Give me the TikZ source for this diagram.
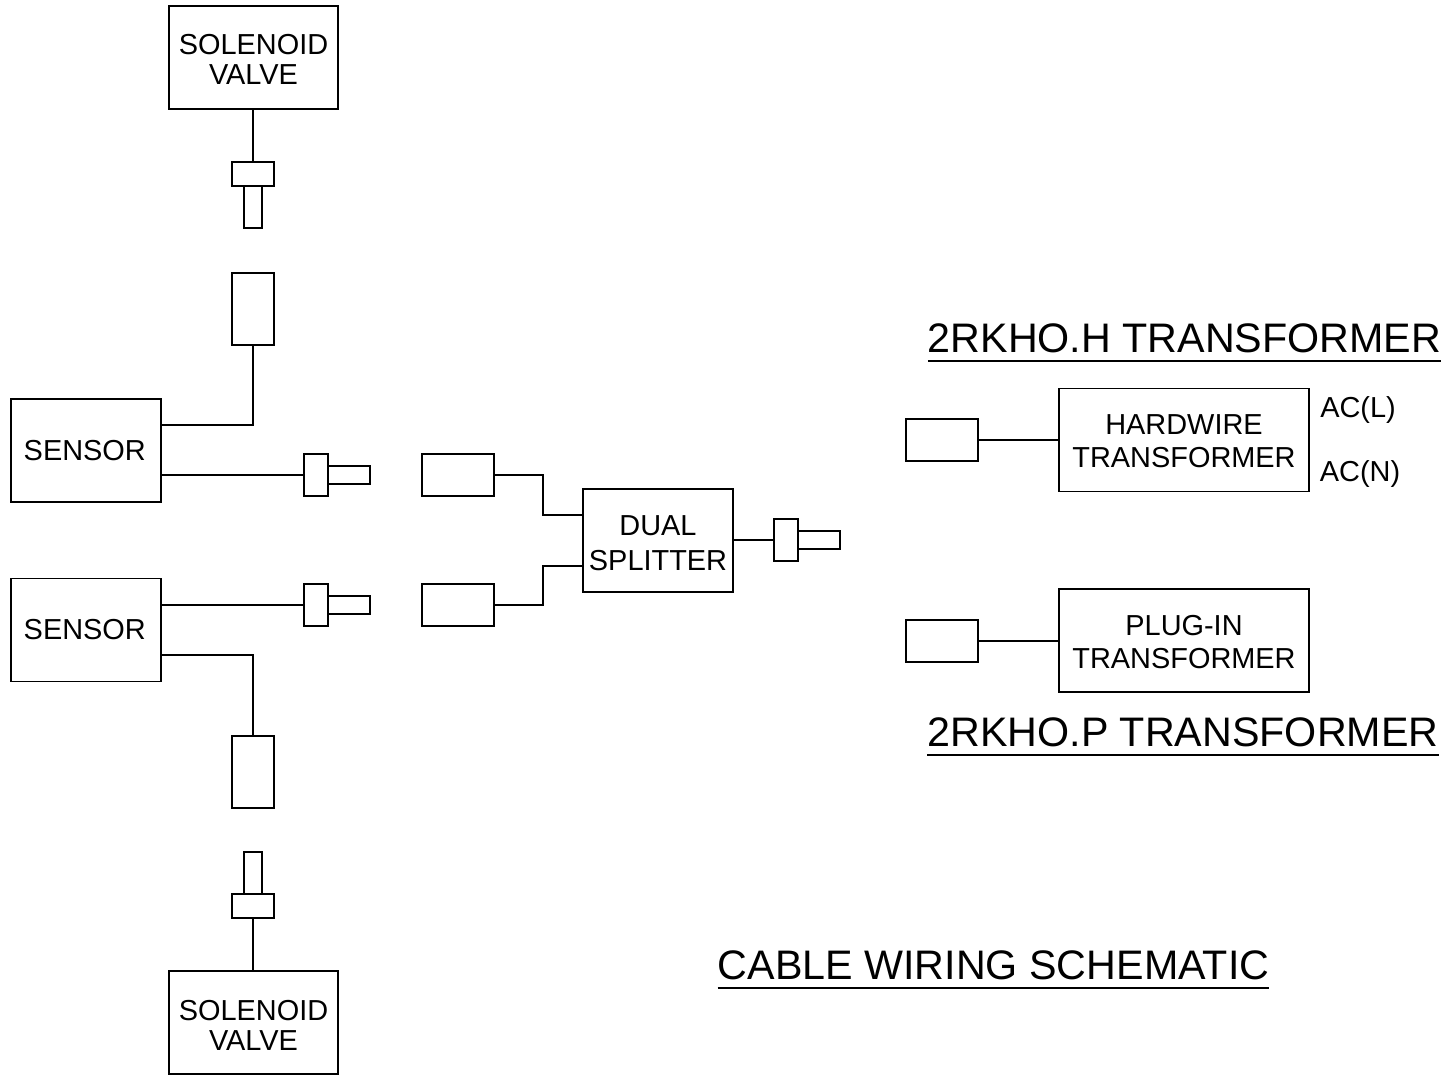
\documentclass[tikz,border=0pt]{standalone}
\usepackage{fontspec}
\setmainfont{Liberation Sans}
\newcommand{\dropline}[1]{\rule{0pt}{#1}}
\tikzset{
	unitbox/.style={draw, line width=1.9pt, inner sep=0pt, outer sep=0pt, align=center, font=\fontsize{28.9}{33}\selectfont, minimum width=150pt, minimum height=103pt},
	plugbox/.style={draw, line width=1.9pt, inner sep=0pt, outer sep=0pt, minimum width=#1},
	wire/.style={line width=1.9pt},
	heading/.style={inner sep=0pt, outer sep=0pt, font=\fontsize{41.25}{41}\selectfont, text depth=0pt},
	aclabel/.style={inner sep=0pt, font=\fontsize{28.9}{33}\selectfont}
}

\begin{document}
\begin{tikzpicture}[x=1pt, y=-1pt]
	\useasboundingbox (0,0) rectangle (1447,1075);
	% units
	\node[unitbox, minimum width=169pt, font=\fontsize{28.9}{30}\selectfont] (valvea) at (253.5,57.5) {\dropline{25pt}SOLENOID\\VALVE};
	\node[unitbox, minimum width=169pt, font=\fontsize{28.9}{30}\selectfont] (valveb) at (253.5,1022.5) {\dropline{25pt}SOLENOID\\VALVE};
	\node[unitbox] (sensora) at (86,450.5) {SENSOR\hspace{2.5pt}};
	\node[unitbox] (sensorb) at (86,630) {SENSOR\hspace{2.5pt}};
	\node[unitbox, font=\fontsize{28.9}{35}\selectfont] (splitter) at (658,540.5) {\dropline{25pt}DUAL\\SPLITTER};
	\node[unitbox, minimum width=250pt] (hardwire) at (1184,440) {\dropline{23pt}HARDWIRE\\TRANSFORMER};
	\node[unitbox, minimum width=250pt] (plugin) at (1184,640.5) {\dropline{23pt}PLUG-IN\\TRANSFORMER};
	% vertical connectors
	\node[plugbox=42pt, minimum height=24pt] (hooda) at (253,174) {};
	\node[plugbox=18pt, minimum height=42pt] (pina) at (253,207) {};
	\node[plugbox=42pt, minimum height=72pt] (socketa) at (253,309) {};
	\node[plugbox=42pt, minimum height=72pt] (socketb) at (253,772) {};
	\node[plugbox=18pt, minimum height=42pt] (pinb) at (253,873) {};
	\node[plugbox=42pt, minimum height=24pt] (hoodb) at (253,906) {};
	% horizontal connectors
	\foreach \name/\px/\py in {c/316/475, d/316/605, e/786/540} {
		\node[plugbox=24pt, minimum height=42pt] (hood\name) at (\px,\py) {};
		\node[plugbox=42pt, minimum height=18pt, anchor=west] (pin\name) at (hood\name.east) {};
	};
	\foreach \name/\py in {c/475, d/605} {
		\node[plugbox=72pt, minimum height=42pt] (socket\name) at (458,\py) {};
	};
	\node[plugbox=72pt, minimum height=42pt] (socketh) at (942,440) {};
	\node[plugbox=72pt, minimum height=42pt] (socketp) at (942,641) {};
	% wires
	\draw[wire] (valvea.south -| hooda) -- (hooda);
	\draw[wire] (hoodb) -- (valveb.north -| hoodb);
	\draw[wire] ([yshift=25.5pt]sensora.east) -| (socketa.south);
	\draw[wire] ([yshift=-25pt]sensorb.east) -| (socketb.north);
	\draw[wire] (sensora.east |- hoodc.west) -- (hoodc.west);
	\draw[wire] (sensorb.east |- hoodd.west) -- (hoodd.west);
	\draw[wire] (socketc.east) -- ++(49,0) |- ([yshift=25.5pt]splitter.west);
	\draw[wire] (socketd.east) -- ++(49,0) |- ([yshift=-25.5pt]splitter.west);
	\draw[wire] (splitter.east |- hoode.west) -- (hoode.west);
	\draw[wire] (socketh) -- (hardwire);
	\draw[wire] (socketp) -- (plugin.west |- socketp);
	% labels
	\node[aclabel] (acl) at (1358,410) {AC(L)};
	\node[aclabel] (acn) at (1360,474) {AC(N)};
	\node[heading] (titleh) at (1184.5,338) {2RKHO.H TRANSFORMER};
	\node[heading] (titlep) at (1183,732) {2RKHO.P TRANSFORMER};
	\node[heading] (titlec) at (993.5,965) {CABLE WIRING SCHEMATIC};
	\foreach \name in {h, p, c} {
		\draw[wire] ([yshift=-9pt]title\name.south west) -- ([yshift=-9pt]title\name.south east);
	};
\end{tikzpicture}
\end{document}
